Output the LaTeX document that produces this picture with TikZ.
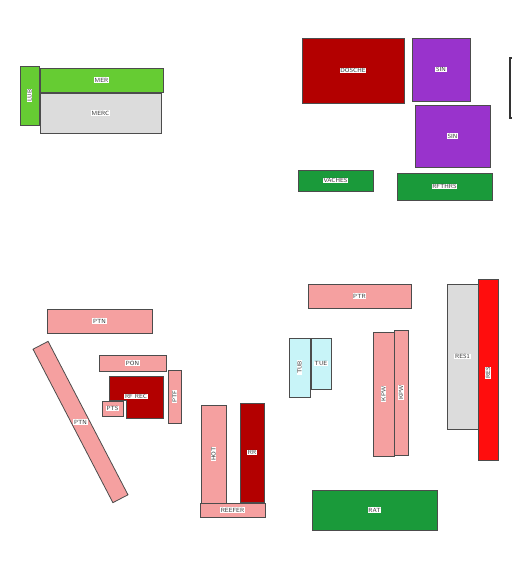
\documentclass[tikz,border=0pt]{standalone}
\usepackage{tikz}

\definecolor{limeG}{HTML}{66CC33}
\definecolor{deepG}{HTML}{1A9A3A}
\definecolor{greyF}{HTML}{DCDCDC}
\definecolor{dkRed}{HTML}{B30000}
\definecolor{hotRed}{HTML}{FF0D0D}
\definecolor{purp}{HTML}{9933CC}
\definecolor{salmon}{HTML}{F5A0A0}
\definecolor{iceB}{HTML}{C8F4F8}

\begin{document}
\begin{tikzpicture}[x=1pt, y=-1pt,
            edge/.style   ={draw=black!70, line width=0.8pt},
            box/.style    ={rectangle, edge, inner sep=0pt},
            lime/.style   ={box, fill=limeG},
            forest/.style ={box, fill=deepG},
            grey/.style   ={box, fill=greyF},
            wine/.style   ={box, fill=dkRed},
            scarlet/.style={box, fill=hotRed},
            violet/.style ={box, fill=purp},
            pink/.style   ={box, fill=salmon},
            ice/.style    ={box, fill=iceB},
            tag/.style    ={fill=white, inner sep=0.7pt, text=black!80,
                            font=\sffamily\fontsize{6}{6}\selectfont}
        ]
            \useasboundingbox (0,0) rectangle (512,574);
            \clip (0,0) rectangle (512,574);

            % top left block
            \node[lime, minimum width=19,  minimum height=59] (lub)  at (29.5,95.5) {};
            \node[lime, minimum width=123, minimum height=24] (mer)  at (101.5,80)  {};
            \node[grey, minimum width=121, minimum height=40] (merc) at (100.5,113) {};
            \node[tag, rotate=90] (lubT)  at (lub)  {LUB};
            \node[tag]            (merT)  at (mer)  {MER};
            \node[tag]            (mercT) at (merc) {MERC};

            % top right block
            \node[wine,   minimum width=102, minimum height=65] (dosche) at (353,70.5)   {};
            \node[violet, minimum width=58,  minimum height=63] (sinA)   at (441,69.5)   {};
            \node[violet, minimum width=75,  minimum height=62] (sinB)   at (452.5,136)  {};
            \node[forest, minimum width=75,  minimum height=21] (vaches) at (335.5,180.5) {};
            \node[forest, minimum width=95,  minimum height=27] (rfthrs) at (444.5,186.5) {};
            \node[box, draw=black!80, line width=1.4pt,
                  minimum width=30, minimum height=60] (cut) at (525,88) {};
            \node[tag] (doscheT) at (dosche) {DOSCHE};
            \node[tag] (sinAT)   at (sinA)   {SIN};
            \node[tag] (sinBT)   at (sinB)   {SIN};
            \node[tag] (vachesT) at (vaches) {VACHES};
            \node[tag] (rfthrsT) at (rfthrs) {RFTHRS};

            % bottom left block
            \node[pink, minimum width=105, minimum height=24] (ptnA) at (99.5,321) {};
            \node[pink, minimum width=173, minimum height=17, rotate=-62.5] (ptnB) at (80.5,422) {};
            \node[pink, minimum width=67,  minimum height=16] (pon)  at (132.5,363) {};
            \filldraw[edge, fill=dkRed] (109,376) -- (163,376) -- (163,418)
                -- (126,418) -- (126,400) -- (109,400) -- cycle;
            \node[pink, minimum width=21, minimum height=15] (pts) at (112.5,408.5) {};
            \node[pink, minimum width=13, minimum height=53] (ptf) at (174.5,396.5) {};
            \node[tag] (ptnAT)  at (ptnA)      {PTN};
            \node[tag] (ptnBT)  at (ptnB)      {PTN};
            \node[tag] (ponT)   at (pon)       {PON};
            \node[tag] (rfrecT) at (136,396.5) {RF REC};
            \node[tag] (ptsT)   at (pts)       {PTS};
            \node[tag, rotate=90] (ptfT) at (ptf) {PTF};

            % bottom middle block
            \node[pink, minimum width=25, minimum height=98] (hot)    at (213.5,454) {};
            \node[wine, minimum width=24, minimum height=99] (rr)     at (252,452.5) {};
            \node[pink, minimum width=65, minimum height=14] (reefer) at (232.5,510) {};
            \node[tag, rotate=90] (hotT) at (hot) {HOT};
            \node[tag] (rrT)     at (rr)     {RR};
            \node[tag] (reeferT) at (reefer) {REEFER};

            % bottom right block
            \node[pink,    minimum width=103, minimum height=24]  (ptr)  at (359.5,296)   {};
            \node[ice,     minimum width=21,  minimum height=59]  (tub)  at (299.5,367.5) {};
            \node[ice,     minimum width=20,  minimum height=51]  (tue)  at (321,363.5)   {};
            \node[pink,    minimum width=21,  minimum height=124] (kpwA) at (383.5,394)   {};
            \node[pink,    minimum width=14,  minimum height=125] (kpwB) at (401,392.5)   {};
            \node[grey,    minimum width=31,  minimum height=145] (res1) at (462.5,356.5) {};
            \node[scarlet, minimum width=20,  minimum height=181] (res)  at (488,369.5)   {};
            \node[forest,  minimum width=125, minimum height=40]  (rat)  at (374.5,510)   {};
            \node[tag] (ptrT) at (ptr) {PTR};
            \node[tag, rotate=90] (tubT)  at (tub)  {TUB};
            \node[tag] (tueT) at (tue) {TUE};
            \node[tag, rotate=90] (kpwAT) at (kpwA) {KPW};
            \node[tag, rotate=90] (kpwBT) at (kpwB) {KPW};
            \node[tag] (res1T) at (res1) {RES1};
            \node[tag, rotate=90] (resT)  at (488,373) {RES};
            \node[tag] (ratT) at (rat) {RAT};

        \end{tikzpicture}
\end{document}
